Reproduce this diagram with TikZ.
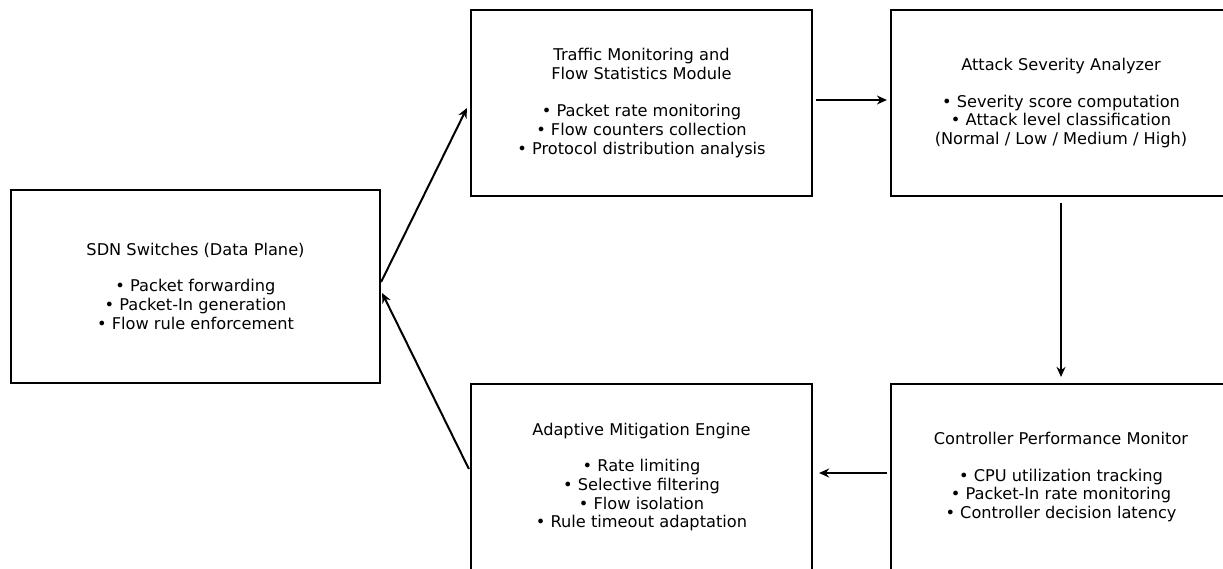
\documentclass[tikz,border=0pt]{standalone}
\usepackage{fontspec}
\setmainfont{DejaVu Sans}
\usetikzlibrary{calc,arrows.meta}
\tikzset{
  blk/.style={draw=black, line width=2.2pt, fill=white, align=center,
    font=\fontsize{16.2}{18.7}\selectfont, inner sep=0pt},
  conn/.style={line width=2pt, -{Stealth[length=10pt,width=9pt]}}
}
\begin{document}
\begin{tikzpicture}[x=1pt,y=-1pt]
\useasboundingbox (0,0) rectangle (1223,568);
\clip (0,0) rectangle (1223,568);
\fill[white] (0,0) rectangle (1223,568);
\node[blk, minimum width=369pt, minimum height=193pt] (sdn) at (195.5,286.5)
  {SDN Switches (Data Plane)\\[17pt]
   • Packet forwarding\\ • Packet-In generation\\ • Flow rule enforcement};
\node[blk, minimum width=341pt, minimum height=186pt] (tm) at (641.5,103)
  {Traffic Monitoring and\\ Flow Statistics Module\\[19pt]
   • Packet rate monitoring\\ • Flow counters collection\\ • Protocol distribution analysis};
\node[blk, minimum width=340pt, minimum height=186pt] (as) at (1061,103)
  {Attack Severity Analyzer\\[18pt]
   • Severity score computation\\ • Attack level classification\\ (Normal / Low / Medium / High)};
\node[blk, minimum width=341pt, minimum height=186pt] (am) at (641.5,477)
  {Adaptive Mitigation Engine\\[18pt]
   • Rate limiting\\ • Selective filtering\\ • Flow isolation\\ • Rule timeout adaptation};
\node[blk, minimum width=340pt, minimum height=186pt] (cp) at (1061,477)
  {Controller Performance Monitor\\[18pt]
   • CPU utilization tracking\\ • Packet-In rate monitoring\\ • Controller decision latency};
\draw[conn] ($(sdn.east)+(0,-4.5)$) -- ($(tm.west)+(-3,5)$);
\draw[conn] ($(tm.east)+(3,-3)$) -- ($(as.west)+(-3,-3)$);
\draw[conn] ($(as.south)+(0,6)$) -- ($(cp.north)+(0,-6)$);
\draw[conn] ($(cp.west)+(-3,-4)$) -- ($(am.east)+(6,-4)$);
\draw[conn] ($(am.west)+(-1,-8)$) -- ($(sdn.east)+(1,6.5)$);
\end{tikzpicture}
\end{document}
